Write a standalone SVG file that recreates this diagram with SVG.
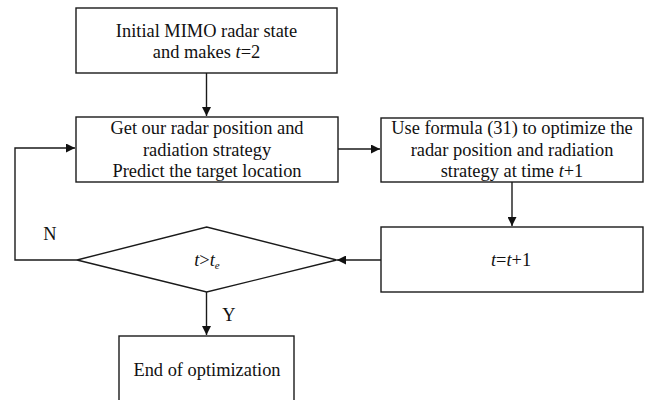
<svg xmlns="http://www.w3.org/2000/svg" width="653" height="400" viewBox="0 0 653 400">
<style>
.box{fill:#fff;stroke:#1a1a1a;stroke-width:1.4}
.ln{fill:none;stroke:#1a1a1a;stroke-width:1.4}
text{font-family:"Liberation Serif","Times New Roman",serif;font-size:18.4px;fill:#111;text-anchor:middle}
.it{font-style:italic}
</style>
<defs>
<marker id="ah" viewBox="0 0 10 10" refX="10" refY="5" markerWidth="9" markerHeight="9" markerUnits="userSpaceOnUse" orient="auto">
<path d="M0,0 L10,5 L0,10 z" fill="#111"/>
</marker>
</defs>
<rect width="653" height="400" fill="#fff"/>
<g id="connectors">
<path class="ln" d="M206.5,73 V116" marker-end="url(#ah)"/>
<path class="ln" d="M338,149 H380" marker-end="url(#ah)"/>
<path class="ln" d="M512,182 V226" marker-end="url(#ah)"/>
<path class="ln" d="M381,260 H337" marker-end="url(#ah)"/>
<path class="ln" d="M77,260 H15 V148 H75" marker-end="url(#ah)"/>
<path class="ln" d="M206.5,292 V335" marker-end="url(#ah)"/>
<text x="50" y="240" font-size="17">N</text>
<text x="229" y="321" font-size="17">Y</text>
</g>
<g id="init">
<rect class="box" x="76" y="8" width="261" height="65"/>
<text x="206.5" y="37">Initial MIMO radar state</text>
<text x="206.5" y="58">and makes <tspan class="it">t</tspan>=2</text>
</g>
<g id="get">
<rect class="box" x="76" y="117" width="262" height="65"/>
<text x="207" y="134">Get our radar position and</text>
<text x="207" y="156">radiation strategy</text>
<text x="207" y="177">Predict the target location</text>
</g>
<g id="formula">
<rect class="box" x="381" y="118" width="262" height="64"/>
<text x="512" y="134">Use formula (31) to optimize the</text>
<text x="512" y="156">radar position and radiation</text>
<text x="512" y="177">strategy at time <tspan class="it">t</tspan>+1</text>
</g>
<g id="incr">
<rect class="box" x="381" y="227" width="262" height="65"/>
<text x="511" y="266" font-size="17" fill="#333"><tspan class="it">t</tspan>=<tspan class="it">t</tspan>+1</text>
</g>
<g id="decision">
<path class="box" d="M77,260 L206.7,227 L336.7,260 L206.7,292 Z"/>
<text x="207" y="266" font-size="16" fill="#333"><tspan class="it">t</tspan>&gt;<tspan class="it">t</tspan><tspan class="it" font-size="11" dy="3">e</tspan></text>
</g>
<g id="end">
<rect class="box" x="119" y="336" width="175" height="80"/>
<text x="207" y="376">End of optimization</text>
</g>
</svg>
